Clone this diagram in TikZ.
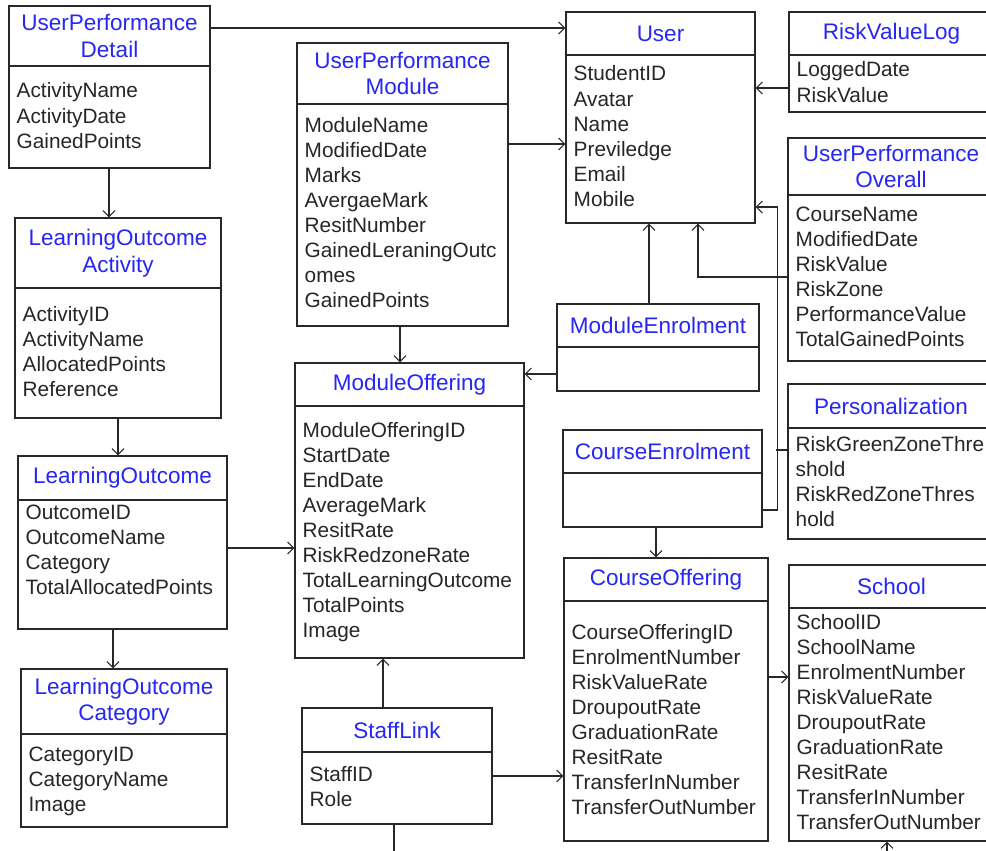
\documentclass[tikz,border=0pt]{standalone}
\usepackage{fontspec}
\setmainfont{Liberation Sans}
\usetikzlibrary{arrows.meta,fit}
\definecolor{titleblue}{RGB}{38,38,245}
\definecolor{boxline}{RGB}{40,40,40}
\tikzset{
  entbox/.style={draw=boxline, line width=1.2pt, inner sep=0pt, fill=white},
  enttitle/.style={text=titleblue, align=center, inner sep=0pt, font=\fontsize{22.5}{26.5}\selectfont},
  entattr/.style={anchor=base west, inner sep=0pt, font=\fontsize{20.8}{25}\selectfont, text=black!85},
  link/.style={draw=boxline, line width=1.1pt, -{Straight Barb[length=6pt,width=12pt]}},
  plain/.style={draw=boxline, line width=1.1pt}
}
% entity box: name, left, top, right, bottom, divider, title, first baseline, attributes
\newcommand\entity[9]{%
  \node[entbox, fit={(#2,#3) (#4,#5)}] (#1) {};
  \draw[plain] (#1.west |- 0,#6) -- (#1.east |- 0,#6);
  \node[enttitle] (#1-t) at ({(#2+#4)/2},{(#3+#6)/2}) {#7};
  \foreach \a [count=\i from 0] in {#9}
    \node[entattr] (#1-a\i) at (#2+7.5,{#8+25.1*\i}) {\a};
}
\begin{document}
\begin{tikzpicture}[x=1pt,y=-1pt]
  \useasboundingbox (0,0) rectangle (986,851);
  \clip (0,0) rectangle (986,851);
  % Entities
  \entity{upd}{9}{6}{210}{168}{66}{UserPerformance\\Detail}{98}{ActivityName,ActivityDate,GainedPoints}
  \entity{upm}{297}{43}{508}{326}{104}{UserPerformance\\Module}{132}{ModuleName,ModifiedDate,Marks,AvergaeMark,ResitNumber,GainedLeraningOutc,omes,GainedPoints}
  \entity{user}{566}{12}{755}{223}{55}{User}{81}{StudentID,Avatar,Name,Previledge,Email,Mobile}
  \entity{rvl}{789}{12}{994}{112}{55}{RiskValueLog}{77}{LoggedDate,RiskValue}
  \entity{upo}{788}{138}{994}{361}{195}{UserPerformance\\Overall}{221}{CourseName,ModifiedDate,RiskValue,RiskZone,PerformanceValue,TotalGainedPoints}
  \entity{loa}{15}{218}{221}{418}{288}{LearningOutcome\\Activity}{321}{ActivityID,ActivityName,AllocatedPoints,Reference}
  \entity{lo}{18}{456}{227}{629}{500}{LearningOutcome}{519}{OutcomeID,OutcomeName,Category,TotalAllocatedPoints}
  \entity{loc}{21}{669}{227}{827}{734}{LearningOutcome\\Category}{761}{CategoryID,CategoryName,Image}
  \entity{mo}{295}{363}{524}{658}{406}{ModuleOffering}{437}{ModuleOfferingID,StartDate,EndDate,AverageMark,ResitRate,RiskRedzoneRate,TotalLearningOutcome,TotalPoints,Image}
  \entity{me}{557}{304}{759}{391}{347}{ModuleEnrolment}{0}{}
  \entity{ce}{563}{430}{762}{527}{473}{CourseEnrolment}{0}{}
  \entity{pers}{788}{384}{994}{539}{428}{Personalization}{451}{RiskGreenZoneThre,shold,RiskRedZoneThres,hold}
  \entity{co}{564}{558}{768}{841}{601}{CourseOffering}{639}{CourseOfferingID,EnrolmentNumber,RiskValueRate,DroupoutRate,GraduationRate,ResitRate,TransferInNumber,TransferOutNumber}
  \entity{school}{789}{565}{994}{841}{608}{School}{629}{SchoolID,SchoolName,EnrolmentNumber,RiskValueRate,DroupoutRate,GraduationRate,ResitRate,TransferInNumber,TransferOutNumber}
  \entity{sl}{302}{708}{492}{824}{752}{StaffLink}{781}{StaffID,Role}
  % Links into User
  \draw[link] (upd.east |- 0,28) -- (user.west |- 0,28);
  \draw[link] (upm.east |- 0,144) -- (user.west |- 0,144);
  \draw[link] (rvl.west |- 0,88) -- (user.east |- 0,88);
  \draw[link] (upo.west |- 0,277) -| (user.south -| 698,0);
  \draw[link] (ce.east |- 0,510) -- ++(15,0) |- (user.east |- 0,207);
  \draw[plain] (pers.west |- 0,450) -- ++(-11,0);
  \draw[link] (me.north -| 649,0) -- (user.south -| 649,0);
  % Left column
  \draw[link] (upd.south -| 109,0) -- (loa.north -| 109,0);
  \draw[link] (loa.south -| 118,0) -- (lo.north -| 118,0);
  \draw[link] (lo.south -| 113,0) -- (loc.north -| 113,0);
  \draw[link] (lo.east |- 0,548) -- (mo.west |- 0,548);
  % Module and course offerings
  \draw[link] (upm.south -| 400,0) -- (mo.north -| 400,0);
  \draw[link] (me.west |- 0,374) -- (mo.east |- 0,374);
  \draw[link] (sl.north -| 383,0) -- (mo.south -| 383,0);
  \draw[link] (ce.south -| 656,0) -- (co.north -| 656,0);
  \draw[link] (sl.east |- 0,776) -- (co.west |- 0,776);
  \draw[link] (co.east |- 0,677) -- (school.west |- 0,677);
  % Off the page
  \coordinate (slout) at (394,860);
  \coordinate (schin) at (887,860);
  \draw[plain] (sl.south -| slout) -- (slout);
  \draw[link] (schin) -- (school.south -| schin);
\end{tikzpicture}
\end{document}
